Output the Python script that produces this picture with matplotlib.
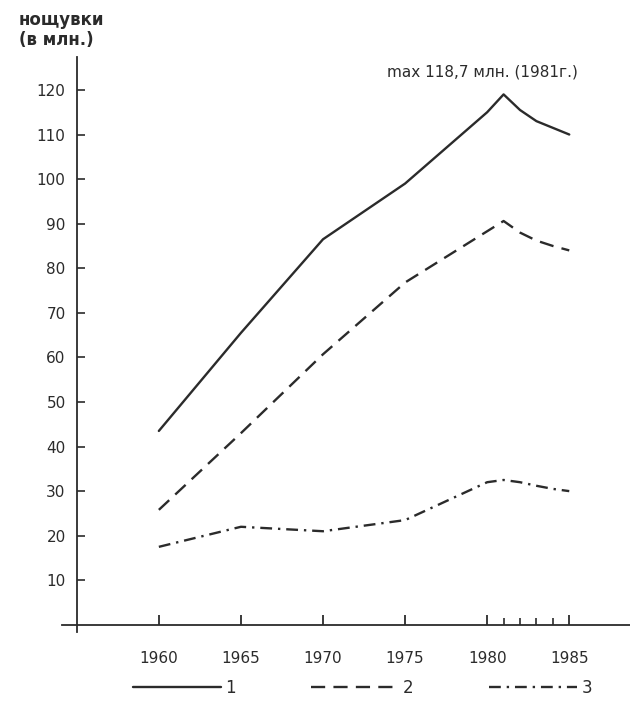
import matplotlib
matplotlib.use("Agg")
import matplotlib.pyplot as plt
from matplotlib.ticker import FixedLocator

# years and series (million overnight stays)
years = [1960, 1965, 1970, 1975, 1980, 1981, 1982, 1983, 1984, 1985]
total = [43.5, 65.5, 86.5, 99.0, 115.0, 119.0, 115.5, 113.0, 111.5, 110.0]
series2 = [25.8, 43.0, 60.7, 76.8, 88.3, 90.6, 88.0, 86.2, 85.0, 84.0]
series3 = [17.5, 22.0, 21.0, 23.5, 32.0, 32.5, 32.0, 31.2, 30.5, 30.0]

legend_labels = ["1", "2", "3"]
major_years = [1960, 1965, 1970, 1975, 1980, 1985]
minor_years = [1981, 1982, 1983, 1984]
yticks = list(range(10, 121, 10))

plt.rcParams['font.family'] = ['DejaVu Sans']
ink = '#2b2b2b'

fig = plt.figure(figsize=(6.3, 7.04), dpi=100)
ax = fig.add_axes([0.0984, 0.1023, 0.9016, 0.8168])

l1, = ax.plot(years, total, color=ink, lw=1.7, solid_capstyle='round')
l2, = ax.plot(years, series2, color=ink, lw=1.7, dashes=(6, 3.5))
l3, = ax.plot(years, series3, color=ink, lw=1.7, dashes=(5, 2.5, 1, 2.5))

ax.set_xlim(1954.1, 1988.7)
ax.set_ylim(-1.6, 127.4)

for s in ['top', 'right']:
    ax.spines[s].set_visible(False)
ax.spines['left'].set_position(('data', 1955.0))
ax.spines['bottom'].set_position(('data', 0))
for s in ['left', 'bottom']:
    ax.spines[s].set_color(ink)
    ax.spines[s].set_linewidth(1.3)

ax.xaxis.set_major_locator(FixedLocator(major_years))
ax.xaxis.set_minor_locator(FixedLocator(minor_years))
ax.set_xticklabels([str(y) for y in major_years])
ax.yaxis.set_major_locator(FixedLocator(yticks))
ax.set_yticklabels([str(v) for v in yticks])

ax.tick_params(axis='x', which='major', direction='in', length=7, width=1.3,
               color=ink, labelsize=11, labelcolor=ink, pad=19)
ax.tick_params(axis='x', which='minor', direction='in', length=5, width=1.2, color=ink)
ax.tick_params(axis='y', direction='in', length=6, width=1.2, color=ink,
               labelsize=11, labelcolor=ink, pad=8)

fig.text(19 / 630, 1 - 11 / 704, "нощувки\n(в млн.)", ha='left', va='top',
         fontsize=12, fontweight='bold', color=ink, linespacing=1.15)

fig.text(387 / 630, 1 - 72 / 704, "max 118,7 млн. (1981г.)", ha='left', va='center',
         fontsize=11, color=ink)

fig.legend([l1, l2, l3], legend_labels, loc='center', ncol=3,
           bbox_to_anchor=(0.575, 16 / 704), frameon=False, fontsize=12,
           handlelength=5.3, handletextpad=0.25, columnspacing=4.5,
           labelcolor=ink)

fig.savefig("out.png", dpi=100)
